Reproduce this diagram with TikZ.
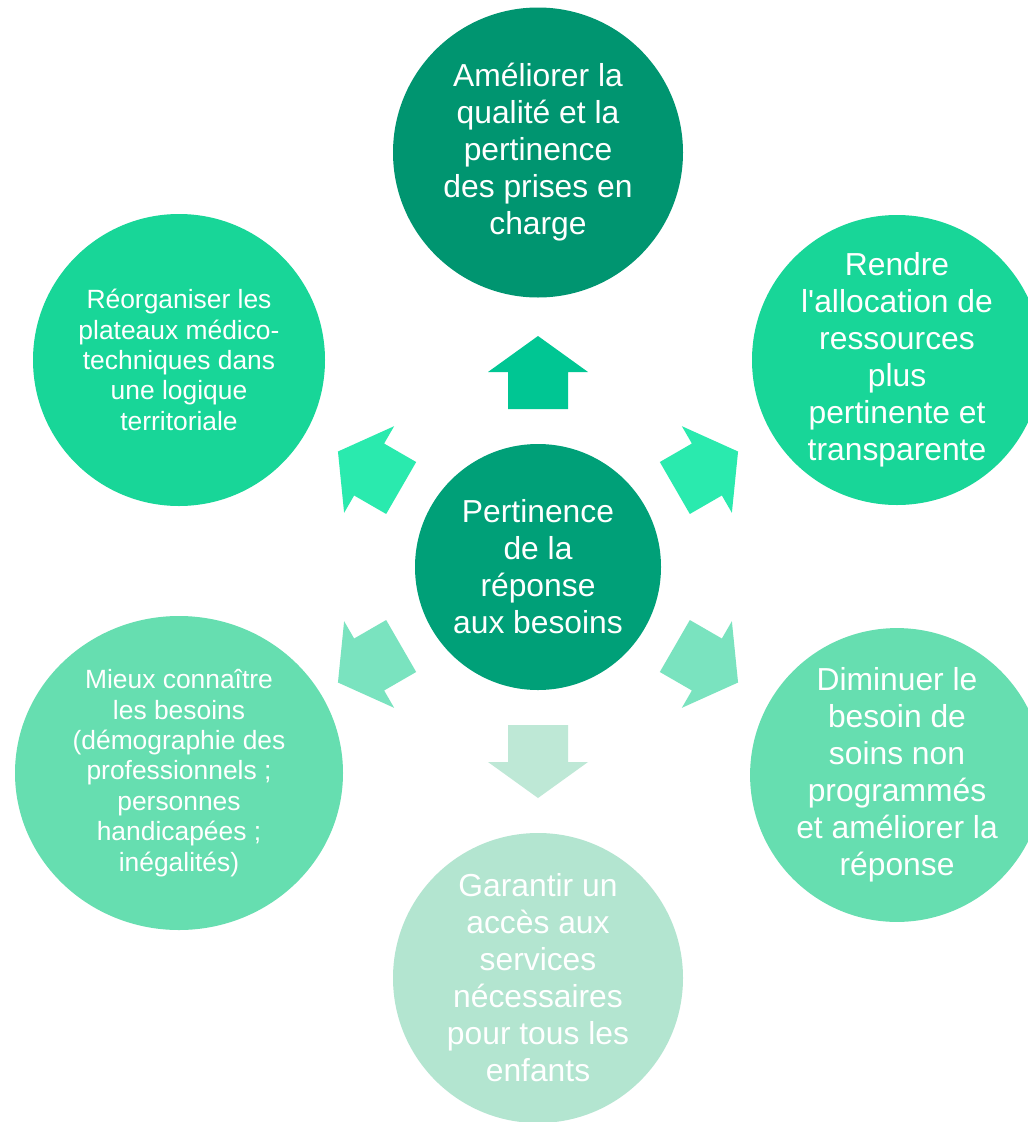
\documentclass[tikz,border=0pt]{standalone}
\usepackage{fontspec}
\setmainfont{Liberation Sans}
\usetikzlibrary{shapes.geometric}
\definecolor{cdark}{HTML}{009570}
\definecolor{ccenter}{HTML}{00A078}
\definecolor{cupper}{HTML}{18D698}
\definecolor{clower}{HTML}{66DEB0}
\definecolor{cbottom}{HTML}{B3E5D0}
\definecolor{aup}{HTML}{00C693}
\definecolor{aupper}{HTML}{2AEAAE}
\definecolor{alower}{HTML}{7AE3BF}
\definecolor{adown}{HTML}{BEE8D6}
\tikzset{
  bubble/.style={circle, minimum size=290pt, inner sep=0pt, text=white, align=center},
  bigtext/.style={font=\fontsize{31.8}{37}\selectfont},
  smalltext/.style={font=\fontsize{26.4}{30.4}\selectfont},
}
\newcommand{\myarrow}[2]{%
  \fill[#2, shift={(538,567)}, rotate=#1]
    (158,-30) -- (195,-30) -- (195,-50) -- (231,0) -- (195,50) -- (195,30) -- (158,30) -- cycle;}
\begin{document}
\begin{tikzpicture}[x=1pt,y=-1pt]
\useasboundingbox (0,0) rectangle (1028,1122);
\fill[white] (0,0) rectangle (1028,1122);
\clip (0,0) rectangle (1028,1122);
% circles
\node[bubble, fill=cdark, bigtext] (top) at (538,152.5)
  {Améliorer la\\qualité et la\\pertinence\\des prises en\\charge};
\node[bubble, fill=cupper, bigtext] (rtop) at (897,360)
  {Rendre\\l\textquotesingle allocation de\\ressources\\plus\\pertinente et\\transparente};
\node[bubble, fill=cupper, smalltext, minimum size=292pt] (ltop) at (179,360)
  {Réorganiser les\\plateaux médico-\\techniques dans\\une logique\\territoriale};
\node[ellipse, fill=clower, text=white, align=center, inner sep=0pt,
  minimum width=328pt, minimum height=314pt, smalltext] (lbot) at (179,773)
  {Mieux connaître\\les besoins\\(démographie des\\professionnels ;\\personnes\\handicapées ;\\inégalités)};
\node[bubble, fill=clower, bigtext] (rbot) at (897,775)
  {Diminuer le\\besoin de\\soins non\\programmés\\et améliorer la\\réponse};
\node[bubble, fill=cbottom, bigtext] (bot) at (538,978)
  {Garantir un\\accès aux\\services\\nécessaires\\pour tous les\\enfants};
\node[bubble, fill=ccenter, bigtext, minimum size=246pt] (center) at (538,567)
  {Pertinence\\de la\\réponse\\aux besoins};
% arrows
\myarrow{90}{aup}
\myarrow{30}{aupper}
\myarrow{150}{aupper}
\myarrow{-30}{alower}
\myarrow{210}{alower}
\myarrow{-90}{adown}
\end{tikzpicture}
\end{document}
